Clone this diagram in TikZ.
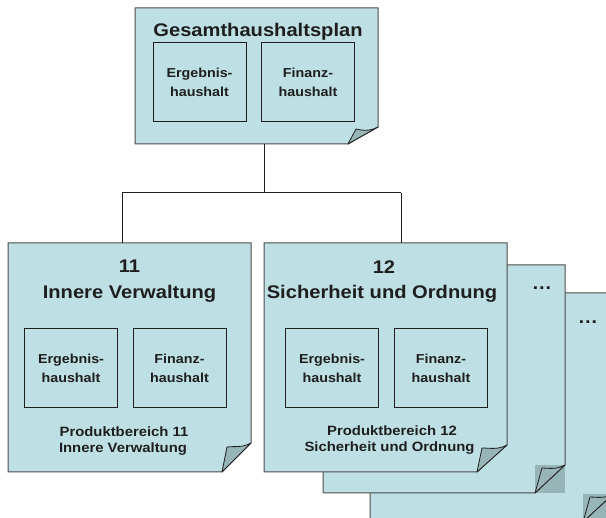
\documentclass[tikz,border=0pt]{standalone}
\usepackage{fontspec}
\setmainfont{Liberation Sans}[FakeStretch=1.1]
\definecolor{pagefill}{HTML}{BEE0E4}
\definecolor{folddark}{HTML}{97B4B6}
\definecolor{edgecol}{HTML}{4A4A4A}
\definecolor{ink}{HTML}{1E1E1E}
% L T R B fw fh cx cy
\newcommand\frontsheet[8]{%
  \filldraw[pagefill, draw=edgecol, line width=1pt] (#1,#2) -- (#3,#2) -- (#3,#4-#6) -- (#3-#5,#4) -- (#1,#4) -- cycle;
  \filldraw[folddark, draw=ink, line width=0.8pt, line join=round] (#3,#4-#6) .. controls (#3-9,#4-#6+5) and (#3-17,#4-#6+3) .. (#3-#7,#4-#6+#8) -- (#3-#5,#4) -- cycle;
}
\newcommand\backsheet[8]{%
  \fill[pagefill] (#1,#2) rectangle (#3,#4);
  \fill[folddark] (#3-#5,#4-#6) rectangle (#3,#4);
  \draw[draw=edgecol, line width=1pt] (#1,#2) -- (#3,#2) -- (#3,#4-#6) -- (#3-#5,#4) -- (#1,#4) -- cycle;
  \filldraw[folddark, draw=ink, line width=0.8pt, line join=round] (#3,#4-#6) .. controls (#3-9,#4-#6+5) and (#3-17,#4-#6+3) .. (#3-#7,#4-#6+#8) -- (#3-#5,#4) -- cycle;
}
\tikzset{
  sheet/.style={inner sep=0pt, anchor=north west},
  ttl/.style={font=\bfseries\fontsize{18.3}{22}\selectfont, anchor=base, inner sep=0pt, text=ink},
  foot/.style={font=\bfseries\fontsize{13.5}{16}\selectfont, anchor=base, inner sep=0pt, text=ink},
  part/.style={draw=ink, line width=1pt, fill=pagefill, minimum width=93pt, minimum height=79pt, inner sep=0pt,
    align=center, font=\bfseries\fontsize{13}{19}\selectfont, text=ink},
  conn/.style={draw=ink, line width=1pt},
}
\begin{document}
\begin{tikzpicture}[x=1pt, y=-1pt]
\useasboundingbox (0,0) rectangle (606,518);
% back sheets
\backsheet{370}{293}{613}{522}{30}{28}{23}{3}
\node[ttl] (dots3) at (588,324) {…};
\backsheet{323}{265}{565}{493}{30}{28}{23}{3}
\node[ttl] (dots2) at (542,290) {…};
% front sheets
\frontsheet{264}{243}{507}{472}{30}{27}{25}{3}
\node[sheet, minimum width=243pt, minimum height=229pt] (p12) at (264,243) {};
\frontsheet{8}{243}{251}{472}{29}{29}{24}{4}
\node[sheet, minimum width=243pt, minimum height=229pt] (p11) at (8,243) {};
\frontsheet{135}{8}{378}{144}{30}{17}{22}{2}
\node[sheet, minimum width=243pt, minimum height=136pt] (top) at (135,8) {};
% top sheet content
\node[ttl] (ttop) at (258,37) {Gesamthaushaltsplan};
\node[part] (te) at (199.5,82.5) {Ergebnis-\\haushalt};
\node[part] (tf) at (308,82.5) {Finanz-\\haushalt};
% sheet 11
\node[ttl] (n11) at (129.5,273) {11};
\node[ttl] (h11) at (129.5,299) {Innere Verwaltung};
\node[part] (e11) at (71,368.5) {Ergebnis-\\haushalt};
\node[part] (f11) at (179.5,368.5) {Finanz-\\haushalt};
\node[foot] (fa11) at (124,437) {Produktbereich 11};
\node[foot] (fb11) at (123,453) {Innere Verwaltung};
% sheet 12
\node[ttl] (n12) at (384,274) {12};
\node[ttl] (h12) at (382,299) {Sicherheit und Ordnung};
\node[part] (e12) at (332,368.5) {Ergebnis-\\haushalt};
\node[part] (f12) at (441,368.5) {Finanz-\\haushalt};
\node[foot] (fa12) at (392,436) {Produktbereich 12};
\node[foot] (fb12) at (389.5,452) {Sicherheit und Ordnung};
% connectors
\coordinate (j0) at (264,193);
\coordinate (j11) at (122,193);
\coordinate (j12) at (401,193);
\draw[conn] (top.south -| j0) -- (j0);
\draw[conn] (j11) -- (j12);
\draw[conn] (j11) -- (p11.north -| j11);
\draw[conn] (j12) -- (p12.north -| j12);
\end{tikzpicture}
\end{document}
